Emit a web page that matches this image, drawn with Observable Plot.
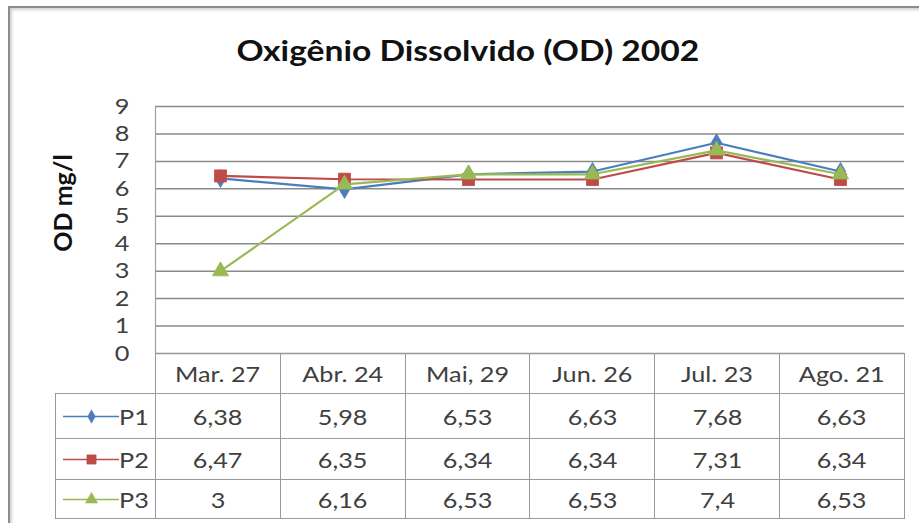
<!DOCTYPE html>
<html><head><meta charset="utf-8">
<script src="https://cdn.jsdelivr.net/npm/d3@7"></script>
<script src="https://cdn.jsdelivr.net/npm/@observablehq/plot@0.6"></script>
<style>
html,body{margin:0;padding:0;background:#fff;}
#wrap{position:relative;width:919px;height:523px;overflow:hidden;background:#fff;font-family:Lato,"Open Sans",sans-serif;}
#frame{position:absolute;left:8px;top:6px;width:960px;height:560px;border-left:2px solid #8c8c8c;border-top:2px solid #8c8c8c;box-shadow:inset 2px 2px 3px rgba(0,0,0,0.18);}
#title{position:absolute;left:0;width:936px;top:34px;text-align:center;font-weight:bold;font-size:28px;line-height:1.2;color:#111;white-space:nowrap;}
#title span{display:inline-block;transform:scaleX(1.2);}
#ytitle{position:absolute;left:62px;top:203px;transform:translate(-50%,-50%) rotate(-90deg);font-weight:bold;font-size:25px;color:#111;white-space:nowrap;}
#chart{position:absolute;left:0;top:0;}
table{position:absolute;left:55px;top:353px;border-collapse:collapse;table-layout:fixed;font-size:21px;color:#404040;}
td{border:1.2px solid #9a9a9a;text-align:center;padding:0;white-space:nowrap;overflow:hidden;}
td span.t{display:inline-block;transform:scaleX(1.2);}
td.key{text-align:left;}
td.key div{display:flex;align-items:center;padding-left:7px;}
td.key svg{display:block;flex:none;}
td.key span.t{transform-origin:left center;}
tr.head td.blank{border:none;border-bottom:1.2px solid #9a9a9a;}
</style></head>
<body><div id="wrap">
<div id="frame"></div>
<div id="title"><span></span></div>
<div id="ytitle"></div>
<div id="chart"></div>
<table id="tbl"></table>
</div>
<script>
const titleText = "Oxigênio Dissolvido (OD) 2002";
const yTitle = "OD mg/l";
const categories = ["Mar. 27","Abr. 24","Mai, 29","Jun. 26","Jul. 23","Ago. 21"];
const yTicks = [0,1,2,3,4,5,6,7,8,9];
const seriesNames = ["P1","P2","P3"];
const p1 = [6.38,5.98,6.53,6.63,7.68,6.63];
const p2 = [6.47,6.35,6.34,6.34,7.31,6.34];
const p3 = [3,6.16,6.53,6.53,7.4,6.53];
const seriesColors = ["#4a7ebb","#be4b48","#98b954"];
const seriesSymbols = ["diamond","square","triangle"];

const seriesValues = [p1,p2,p3];
const data = seriesNames.flatMap((s,i)=>seriesValues[i].map((v,j)=>({series:s,cat:categories[j],value:v})));
const fmt = v => String(v).replace(".", ",");
const markerR = {P1:5.5,P2:6.8,P3:6};
const keyR = {P1:4,P2:5.2,P3:4.5};

document.querySelector("#title span").textContent = titleText;
document.getElementById("ytitle").textContent = yTitle;

const marks = [
  Plot.ruleY(yTicks,{stroke:"#8a8a8a",strokeWidth:1.5}),
  Plot.frame({anchor:"left",stroke:"#a0a0a0",strokeWidth:1.2}),
  Plot.axisY({ticks:yTicks,tickSize:0,tickPadding:26,fontSize:22,label:null})
];
seriesNames.forEach((s)=>{
  const d = data.filter(r=>r.series===s);
  marks.push(Plot.line(d,{x:"cat",y:"value",stroke:"series",strokeWidth:2.2}));
  marks.push(Plot.dot(d,{x:"cat",y:"value",fill:"series",symbol:"series",r:markerR[s],stroke:"series",strokeWidth:0.8}));
});

const chart = Plot.plot({
  width:919,height:523,marginTop:106,marginBottom:170,marginLeft:155,marginRight:15,
  style:{background:"transparent",fontFamily:"Lato, sans-serif",color:"#404040"},
  x:{type:"point",domain:categories,padding:0.5,axis:null},
  y:{domain:[0,9],axis:null},
  color:{domain:seriesNames,range:seriesColors},
  symbol:{domain:seriesNames,range:seriesSymbols},
  marks
});
document.getElementById("chart").appendChild(chart);
// widen the tick labels a little, like the reference's lettering
chart.querySelectorAll("g[aria-label='y-axis tick label'] text").forEach(t=>{
  const tr = t.getAttribute("transform") || "";
  t.setAttribute("transform", tr + " scale(1.15,1)");
});

// table
const tbl = document.getElementById("tbl");
const colW = (919-15-155)/categories.length;
const cg = document.createElement("colgroup");
[100,...categories.map(()=>colW)].forEach(w=>{const c=document.createElement("col");c.style.width=w+"px";cg.appendChild(c);});
tbl.appendChild(cg);
const textSpan = s => {const sp=document.createElement("span");sp.className="t";sp.textContent=s;return sp;};
const hr = document.createElement("tr"); hr.className="head"; hr.style.height="40px";
const b = document.createElement("td"); b.className="blank"; hr.appendChild(b);
categories.forEach(c=>{const td=document.createElement("td");td.appendChild(textSpan(c));hr.appendChild(td);});
tbl.appendChild(hr);
const rowH=[45,41,39];
seriesNames.forEach((s,i)=>{
  const tr=document.createElement("tr"); tr.style.height=rowH[i]+"px";
  const k=document.createElement("td"); k.className="key";
  const div=document.createElement("div");
  const key = Plot.plot({
    width:56,height:20,margin:0,
    style:{background:"transparent"},
    x:{domain:[0,1],axis:null},y:{domain:[0,1],axis:null},
    color:{domain:seriesNames,range:seriesColors},
    symbol:{domain:seriesNames,range:seriesSymbols},
    marks:[
      Plot.line([{x:0,y:0.5,s},{x:1,y:0.5,s}],{x:"x",y:"y",stroke:"s",strokeWidth:1.6}),
      Plot.dot([{x:0.5,y:0.5,s}],{x:"x",y:"y",fill:"s",symbol:"s",r:keyR[s],stroke:"s",strokeWidth:0.6})
    ]
  });
  div.appendChild(key);
  div.appendChild(textSpan(s));
  k.appendChild(div);
  tr.appendChild(k);
  seriesValues[i].forEach(v=>{const td=document.createElement("td");td.appendChild(textSpan(fmt(v)));tr.appendChild(td);});
  tbl.appendChild(tr);
});
</script>
</body></html>
